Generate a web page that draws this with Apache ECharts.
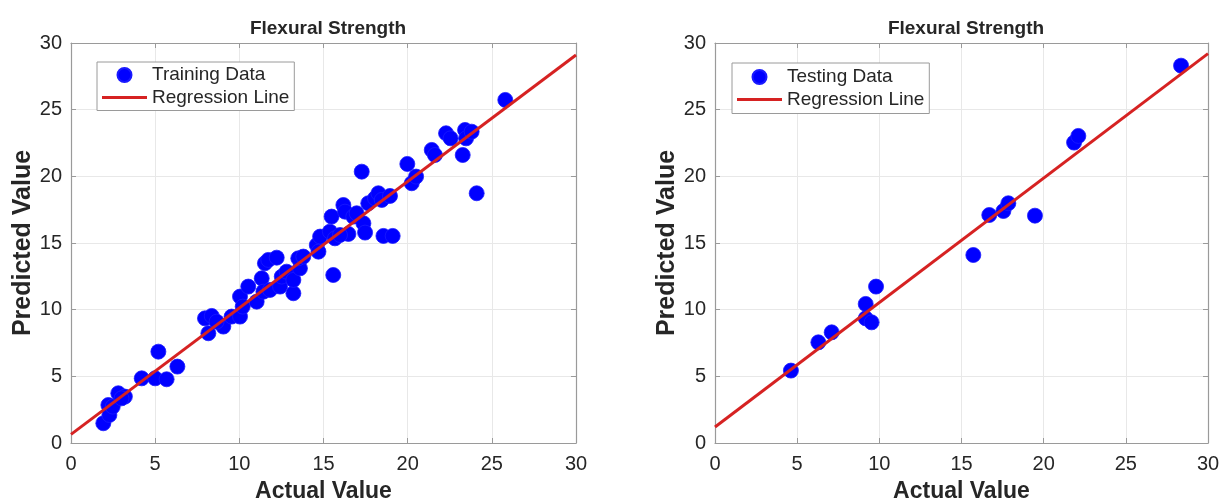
<!DOCTYPE html>
<html>
<head>
<meta charset="utf-8">
<script src="https://cdn.jsdelivr.net/npm/echarts@6/dist/echarts.min.js"></script>
<style>
html,body{margin:0;padding:0;background:#fff;}
#chart{width:1229px;height:502px;}
</style>
</head>
<body>
<div id="chart"></div>
<script>
// ---- Data ----
var trainActual = [1.92,2.22,2.28,2.48,2.81,3.2,3.0,4.2,5.0,5.19,5.68,6.32,7.96,8.36,8.16,9.05,8.65,9.54,10.04,10.04,10.2,10.53,11.03,11.33,11.52,11.72,12.22,11.43,11.82,12.42,12.52,12.81,13.21,13.21,13.6,13.5,13.8,14.6,14.8,14.7,15.38,15.48,15.58,15.68,16.18,16.28,16.48,15.98,16.77,16.97,17.27,17.37,17.47,17.66,18.06,18.26,18.46,18.95,18.56,19.11,19.98,20.24,20.5,21.43,21.62,22.28,22.55,23.27,23.41,23.47,23.8,24.1,25.8];
var trainPred   = [1.48,2.85,2.1,2.73,3.73,3.48,3.35,4.85,4.85,6.85,4.78,5.73,9.35,9.53,8.23,8.73,9.1,9.48,9.48,10.98,10.23,11.73,10.6,12.35,13.48,13.73,13.9,11.35,11.48,11.73,12.48,12.85,11.23,12.23,13.1,13.85,13.98,14.85,15.48,14.35,15.85,16.98,12.6,15.35,17.85,17.35,15.68,15.6,16.98,17.23,20.35,16.48,15.78,17.98,18.35,18.73,18.23,18.53,15.53,15.53,20.93,19.48,19.98,21.98,21.6,23.23,22.85,21.6,23.48,22.85,23.35,18.73,25.73];
var testActual  = [4.62,6.29,7.1,9.17,9.17,9.53,9.8,15.72,16.69,17.55,17.85,19.47,21.85,22.11,28.36];
var testPred    = [5.43,7.55,8.3,10.43,9.35,9.05,11.73,14.1,17.1,17.4,17.98,17.05,22.53,23.03,28.3];
var trainLineX  = [0,30];
var trainLineY  = [0.65,29.1];
var testLineX   = [0,30];
var testLineY   = [1.2,29.2];
var titles      = ['Flexural Strength','Flexural Strength'];
var xName = 'Actual Value', yName = 'Predicted Value';

function pairs(a,b){return a.map(function(v,i){return [v,b[i]];});}

var FONT = '"Liberation Sans",Arial,sans-serif';
var TXT = '#262626';
var AXC = '#9a9a9a';
var LINE_ICON = 'path://M0,0 M0,5.5 L45,5.5 L45,8.5 L0,8.5 Z M45,14';

function mkX(gi){
  return [{
    gridIndex: gi, type:'value', min:0, max:30, interval:5, position:'bottom',
    name: xName, nameLocation:'middle', nameGap:37,
    nameTextStyle:{fontFamily:FONT, fontSize:23, fontWeight:'bold', color:TXT},
    axisLine:{show:true, lineStyle:{color:AXC, width:1.2}},
    axisTick:{show:true, inside:true, length:5, lineStyle:{color:AXC}},
    axisLabel:{fontFamily:FONT, fontSize:20, color:TXT, margin:11},
    splitLine:{show:true, lineStyle:{color:'#e8e8e8', width:1}}
  },{
    gridIndex: gi, type:'value', min:0, max:30, interval:5, position:'top',
    axisLine:{show:true, onZero:false, lineStyle:{color:AXC, width:1.2}},
    axisTick:{show:true, inside:true, length:5, lineStyle:{color:AXC}},
    axisLabel:{show:false}, splitLine:{show:false}
  }];
}
function mkY(gi, gap){
  return [{
    gridIndex: gi, type:'value', min:0, max:30, interval:5, position:'left',
    name: yName, nameLocation:'middle', nameGap:gap,
    nameTextStyle:{fontFamily:FONT, fontSize:25, fontWeight:'bold', color:TXT},
    axisLine:{show:true, lineStyle:{color:AXC, width:1.2}},
    axisTick:{show:true, inside:true, length:5, lineStyle:{color:AXC}},
    axisLabel:{fontFamily:FONT, fontSize:20, color:TXT, margin:9},
    splitLine:{show:true, lineStyle:{color:'#e8e8e8', width:1}}
  },{
    gridIndex: gi, type:'value', min:0, max:30, interval:5, position:'right',
    axisLine:{show:true, onZero:false, lineStyle:{color:AXC, width:1.2}},
    axisTick:{show:true, inside:true, length:5, lineStyle:{color:AXC}},
    axisLabel:{show:false}, splitLine:{show:false}
  }];
}

var scatterStyle = {color:'#0000ff', borderColor:'#1a1aff', borderWidth:0.8, opacity:1};
var lineStyle = {color:'#d62222', width:3};

function mkLegend(left, top, first, pad){
  return {left:left, top:top, orient:'vertical', itemGap:2.5, itemWidth:45, itemHeight:14,
    padding:pad, borderColor:'#9a9a9a', borderWidth:1, backgroundColor:'#fff',
    textStyle:{fontFamily:FONT, fontSize:19, color:TXT, lineHeight:20},
    data:[{name:first, icon:'circle'},{name:'Regression Line', icon:LINE_ICON}]};
}

var option = {
  animation:false,
  backgroundColor:'#fff',
  title:[
    {text:titles[0], left:323, top:14, textAlign:'center',
     textStyle:{fontFamily:FONT, fontSize:19, fontWeight:'bold', color:TXT}},
    {text:titles[1], left:961, top:14, textAlign:'center',
     textStyle:{fontFamily:FONT, fontSize:19, fontWeight:'bold', color:TXT}}
  ],
  grid:[
    {left:71, top:43, width:505, height:400, containLabel:false, outerBoundsMode:'none'},
    {left:715, top:43, width:493, height:400, containLabel:false, outerBoundsMode:'none'}
  ],
  xAxis: mkX(0).concat(mkX(1)),
  yAxis: mkY(0,35).concat(mkY(1,29)),
  legend:[
    mkLegend(97, 62, 'Training Data', [3,5,3,5]),
    mkLegend(732, 63, 'Testing Data', [4,5,4,5])
  ],
  series:[
    {name:'Regression Line', type:'line', xAxisIndex:0, yAxisIndex:0,
     data:pairs(trainLineX,trainLineY), showSymbol:false, symbol:'none',
     lineStyle:lineStyle, itemStyle:{color:'#d62222'}, z:3},
    {name:'Training Data', type:'scatter', xAxisIndex:0, yAxisIndex:0,
     data:pairs(trainActual,trainPred), symbolSize:15, itemStyle:scatterStyle, z:2},
    {name:'Regression Line', type:'line', xAxisIndex:2, yAxisIndex:2,
     data:pairs(testLineX,testLineY), showSymbol:false, symbol:'none',
     lineStyle:lineStyle, itemStyle:{color:'#d62222'}, z:3},
    {name:'Testing Data', type:'scatter', xAxisIndex:2, yAxisIndex:2,
     data:pairs(testActual,testPred), symbolSize:15, itemStyle:scatterStyle, z:2}
  ]
};
var chart = echarts.init(document.getElementById('chart'), null, {renderer:'canvas'});
chart.setOption(option);
</script>
</body>
</html>
